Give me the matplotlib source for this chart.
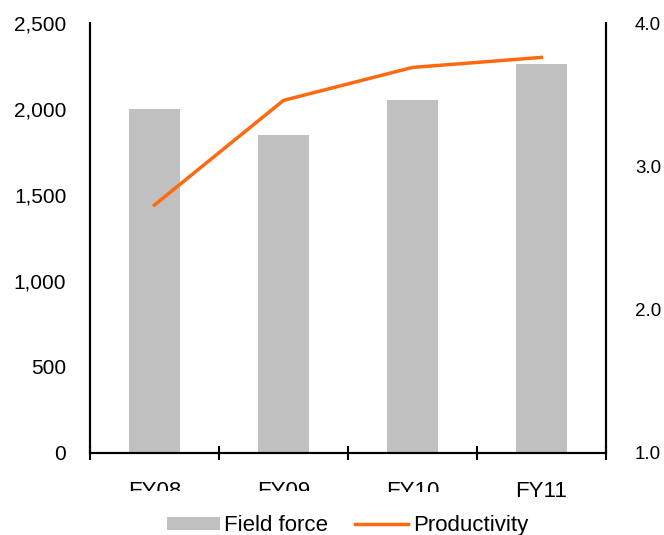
import matplotlib.pyplot as plt
import numpy as np
from matplotlib.transforms import Bbox

plt.rcParams['font.family'] = ['Liberation Sans', 'DejaVu Sans']
plt.rcParams['font.size'] = 15

# data
years = ['FY08', 'FY09', 'FY10', 'FY11']
field_force = [2000, 1850, 2050, 2260]
productivity = [2.73, 3.46, 3.69, 3.76]

x = np.arange(len(years))

fig = plt.figure(figsize=(6.64, 5.35), dpi=100)
ax = fig.add_axes([0.1355, 0.1533, 0.777, 0.8037])
ax2 = ax.twinx()

ax.bar(x, field_force, width=0.4, color='#c0c0c0', label='Field force', zorder=2)
ax2.plot(x, productivity, color='#ff6a10', linewidth=2.5, label='Productivity')

ax.set_xlim(-0.5, 3.5)
ax.set_ylim(0, 2500)
ax2.set_ylim(1.0, 4.0)
ax.set_yticks(np.arange(0, 2501, 500))
ax.set_yticklabels([f'{v:,}' for v in range(0, 2501, 500)])
ax2.set_yticks([1.0, 2.0, 3.0, 4.0])
ax2.set_yticklabels(['1.0', '2.0', '3.0', '4.0'], fontsize=13.5)

# category boundaries as ticks, labels at centres
ax.set_xticks(np.arange(-0.5, 4, 1))
ax.set_xticklabels([])
ax.set_xticks(x, minor=True)
ax.set_xticklabels(years, minor=True, fontsize=16)
ax.tick_params(axis='x', which='major', direction='inout', length=10, width=1.5)
ax.tick_params(axis='x', which='minor', length=0, pad=20)
ax.tick_params(axis='y', length=0, pad=17)
ax2.tick_params(axis='y', length=0, pad=21)

for a in (ax, ax2):
    a.spines['top'].set_visible(False)
    for s in ('left', 'right', 'bottom'):
        a.spines[s].set_linewidth(1.5)

# the category labels are cut off at the bottom in the original
clip_bottom = [491, 491, 492, 497]  # pixels from top
for lab, yb in zip(ax.get_xticklabels(minor=True), clip_bottom):
    lab.set_clip_on(True)
    lab.set_clip_box(Bbox([[0, 535 - yb], [664, 535]]))

h1, l1 = ax.get_legend_handles_labels()
h2, l2 = ax2.get_legend_handles_labels()
fig.legend(h1 + h2, l1 + l2, loc='lower center', bbox_to_anchor=(0.523, -0.040),
           ncol=2, frameon=False, fontsize=16, handlelength=2.4, handleheight=0.5,
           handletextpad=0.2, columnspacing=1.2)

plt.savefig('out.png', dpi=100)
